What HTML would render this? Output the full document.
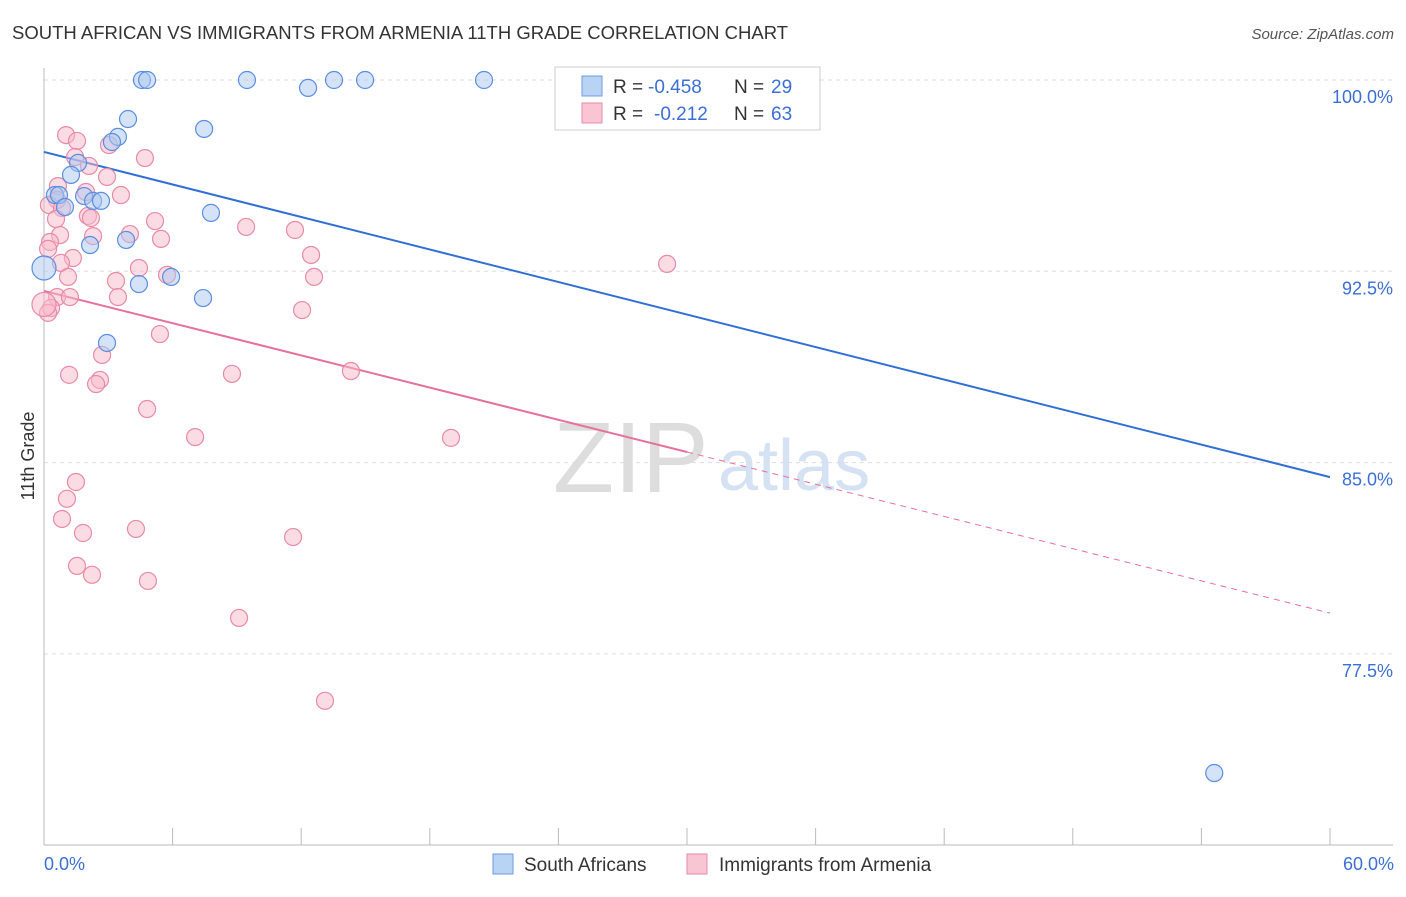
<!DOCTYPE html>
<html><head><meta charset="utf-8"><style>
body{margin:0;background:#fff;font-family:"Liberation Sans",sans-serif;}
svg text{font-family:"Liberation Sans",sans-serif;}
</style></head><body>
<svg id="c" width="1406" height="892" xmlns="http://www.w3.org/2000/svg">
<text x="12" y="39" font-size="18.5" fill="#333">SOUTH AFRICAN VS IMMIGRANTS FROM ARMENIA 11TH GRADE CORRELATION CHART</text>
<text x="1394" y="39" font-size="15" fill="#555" text-anchor="end" font-style="italic">Source: ZipAtlas.com</text>
<text x="553" y="492" font-size="100" fill="#ddd" font-family="Liberation Serif">ZIP</text>
<text x="718" y="490" font-size="72" fill="#d4e2f4">atlas</text>
<g id="grid"></g><g id="axes"></g><g id="lines"></g><g id="pts"></g>
<text transform="translate(34,456) rotate(-90)" font-size="18" fill="#333" text-anchor="middle">11th Grade</text>
<text x="44" y="870" font-size="18" fill="#3b6fd6">0.0%</text>
<text x="1394" y="870" font-size="18" fill="#3b6fd6" text-anchor="end">60.0%</text>
<g>
<rect x="555" y="67" width="265" height="63" fill="#fff" stroke="#ccc"/>
<rect x="582" y="76" width="20" height="20" fill="#b9d3f5" stroke="#6d9be0"/>
<rect x="582" y="103" width="20" height="20" fill="#f9c5d4" stroke="#e88aa8"/>
<text x="613" y="93" font-size="19" fill="#333">R =</text>
<text x="648" y="93" font-size="19" fill="#3b6fd6">-0.458</text>
<text x="734" y="93" font-size="19" fill="#333">N =</text>
<text x="771" y="93" font-size="19" fill="#3b6fd6">29</text>
<text x="613" y="120" font-size="19" fill="#333">R =</text>
<text x="654" y="120" font-size="19" fill="#3b6fd6">-0.212</text>
<text x="734" y="120" font-size="19" fill="#333">N =</text>
<text x="771" y="120" font-size="19" fill="#3b6fd6">63</text>
</g>
<g>
<rect x="493" y="854" width="20" height="20" fill="#b9d3f5" stroke="#6d9be0"/>
<text x="524" y="871" font-size="19" fill="#333">South Africans</text>
<rect x="687" y="854" width="20" height="20" fill="#f9c5d4" stroke="#e88aa8"/>
<text x="719" y="871" font-size="19" fill="#333">Immigrants from Armenia</text>
</g>
</svg>
<script>
const yTicks=[100,92.5,85,77.5];
const yTickLabels=["100.0%","92.5%","85.0%","77.5%"];
const xTicks=[0,6,12,18,24,30,36,42,48,54,60];
const blueX=[4.57,4.81,9.47,12.32,13.53,14.98,20.53,33.74,3.92,7.47,3.45,3.17,1.59,1.26,0.51,0.70,1.87,2.29,2.66,0.98,7.79,3.83,2.15,5.93,4.43,7.42,2.94,54.6,0];
const blueY=[100,100,100,99.69,100,100,100,100,98.47,98.08,97.77,97.57,96.75,96.28,95.49,95.49,95.45,95.26,95.26,95.02,94.79,93.73,93.53,92.28,92.0,91.45,89.69,72.83,92.63];
const pinkX=[1.03,1.54,3.03,4.71,1.45,2.10,2.94,0.65,1.96,3.59,0.61,0.23,0.84,2.05,2.19,5.18,0.56,9.43,11.71,4.01,0.75,2.29,5.46,0.28,0.19,12.46,1.35,0.79,4.43,5.74,1.12,3.36,12.60,29.07,0.61,1.21,3.45,0.33,0.19,12.04,5.41,2.71,1.17,2.61,2.43,8.77,14.32,4.81,7.05,18.99,1.49,1.07,0.84,1.82,4.29,11.62,1.54,2.24,4.85,9.10,13.11,0];
const pinkY=[97.84,97.61,97.45,96.94,96.98,96.63,96.20,95.84,95.61,95.49,95.30,95.10,94.98,94.67,94.59,94.47,94.55,94.24,94.12,93.96,93.92,93.88,93.77,93.65,93.38,93.14,93.02,92.83,92.63,92.36,92.28,92.12,92.28,92.79,91.49,91.49,91.49,91.06,90.87,90.98,90.04,89.22,88.44,88.24,88.08,88.48,88.59,87.10,86.00,85.97,84.24,83.58,82.79,82.24,82.40,82.08,80.95,80.60,80.36,78.91,75.66,91.2];
const blueTrend=[97.18,84.43];
const pinkTrend=[91.73,79.1];
const pinkSolidEnd=30;
const NS="http://www.w3.org/2000/svg";
const X=v=>44+v/60*1286, Y=v=>80+(100-v)/7.5*191.3;
function mk(t,a,p){const e=document.createElementNS(NS,t);for(const k in a)e.setAttribute(k,a[k]);document.getElementById(p).appendChild(e);return e;}
yTicks.forEach((t,i)=>{
 const l=mk('line',{x1:44,x2:1393,y1:Y(t),y2:Y(t),stroke:'#ddd','stroke-dasharray':'4,4'},'grid');
 
 
 const tx=mk('text',{x:1393,y:Y(t)+23,'font-size':18,fill:'#3b6fd6','text-anchor':'end'},'axes');
 tx.textContent=yTickLabels[i];
 
 
});
let a=mk('line',{x1:44,x2:44,y1:68,y2:845,stroke:'#bbb'},'axes');


a=mk('line',{x1:44,x2:1393,y1:845,y2:845,stroke:'#bbb'},'axes');


xTicks.forEach(t=>{const l=mk('line',{x1:X(t),x2:X(t),y1:828,y2:845,stroke:'#bbb'},'axes');
 
 });
function pts(xs,ys,fill,stroke,name){xs.forEach((x,i)=>{
 const big=(x===0);
 const c=mk('circle',{cx:X(x),cy:Y(ys[i]),r:big?12:8.5,fill:fill,'fill-opacity':0.5,stroke:stroke,'stroke-width':1.2},'pts');
 
 });}
pts(pinkX,pinkY,'#f7b9cc','#e88aa8','armenia-point');
pts(blueX,blueY,'#a9c8f0','#5b8ee0','south-african-point');
const py=x=>pinkTrend[0]+(pinkTrend[1]-pinkTrend[0])*x/60;
let l=mk('line',{x1:X(0),y1:Y(blueTrend[0]),x2:X(60),y2:Y(blueTrend[1]),stroke:'#2f6fd6','stroke-width':2},'lines');


l=mk('line',{x1:X(0),y1:Y(py(0)),x2:X(pinkSolidEnd),y2:Y(py(pinkSolidEnd)),stroke:'#e8709a','stroke-width':2},'lines');


l=mk('line',{x1:X(pinkSolidEnd),y1:Y(py(pinkSolidEnd)),x2:X(60),y2:Y(py(60)),stroke:'#e8709a','stroke-width':1,'stroke-dasharray':'6,5'},'lines');


</script>
</body></html>
